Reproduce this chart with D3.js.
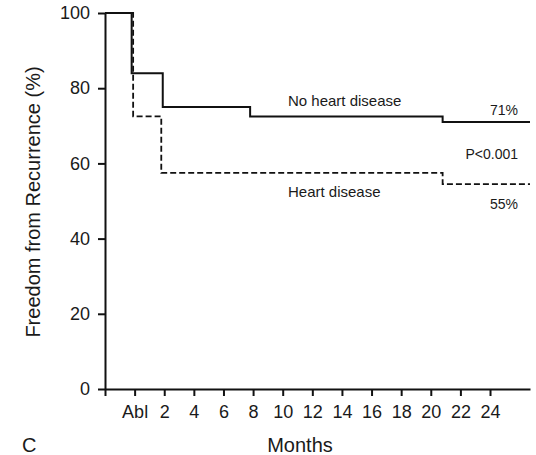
<!DOCTYPE html>
<html>
<head>
<meta charset="utf-8">
<script src="https://cdn.jsdelivr.net/npm/d3@7"></script>
<style>
  body { margin: 0; background: #fff; }
  svg text { font-family: "Liberation Sans", Arial, sans-serif; fill: #1a1a1a; }
</style>
</head>
<body>
<svg id="chart" width="536" height="455"></svg>
<script>
// tick positions on the month axis (-2 is the origin, 0 is the ablation)
const tickMonths = [-2, 0, 2, 4, 6, 8, 10, 12, 14, 16, 18, 20, 22, 24];
const tickLabels = ["", "Abl", "2", "4", "6", "8", "10", "12", "14", "16", "18", "20", "22", "24"];
const yTicks = [0, 20, 40, 60, 80, 100];

// step curves
const noHeartMonths = [-2, -0.2, 1.9, 7.8, 20.8, 26.7];
const noHeartValues = [100, 84, 75, 72.5, 71, 71];
const heartMonths = [-2, -0.1, 1.8, 20.8, 26.7];
const heartValues = [100, 72.5, 57.5, 54.5, 54.5];

function toPoints(months, values) {
	return months.map((m, i) => ({m: m, v: values[i]}));
}

function drawChart(svgElem) {
	const svg = d3.select(svgElem);

	const x = d3.scaleLinear().domain([-2, 26.7]).range([105, 530]);
	const y = d3.scaleLinear().domain([0, 100]).range([389, 13]);

	const line = d3.line()
		.x(d => x(d.m))
		.y(d => y(d.v))
		.curve(d3.curveStepAfter);

	// axes
	const yAxis = g => g
		.attr("transform", `translate(${x(-2)},0)`)
		.call(d3.axisLeft(y).tickValues(yTicks).tickSize(7).tickPadding(8).tickSizeOuter(0))
		.call(g => g.selectAll("text").style("font-size", "18px"));

	const xAxis = g => g
		.attr("transform", `translate(0,${y(0)})`)
		.call(d3.axisBottom(x).tickValues(tickMonths).tickFormat((d, i) => tickLabels[i])
			.tickSize(7).tickPadding(9).tickSizeOuter(0))
		.call(g => g.selectAll("text").style("font-size", "18px"));

	svg.append("g").call(xAxis);
	svg.append("g").call(yAxis);
	svg.selectAll(".domain, .tick line").attr("stroke", "#111").attr("stroke-width", 2);

	// survival curves
	svg.append("path")
		.datum(toPoints(heartMonths, heartValues))
		.attr("fill", "none")
		.attr("stroke", "#111")
		.attr("stroke-width", 1.8)
		.attr("stroke-dasharray", "6,3")
		.attr("d", line);

	svg.append("path")
		.datum(toPoints(noHeartMonths, noHeartValues))
		.attr("fill", "none")
		.attr("stroke", "#111")
		.attr("stroke-width", 2)
		.attr("d", line);

	// annotations
	const label = (tx, ty, txt, size, anchor) => svg.append("text")
		.attr("x", tx).attr("y", ty)
		.attr("text-anchor", anchor || "start")
		.style("font-size", size + "px")
		.text(txt);

	label(288, 106, "No heart disease", 15);
	label(518, 115, "71%", 14, "end");
	label(518, 159, "P<0.001", 14, "end");
	label(288, 197, "Heart disease", 15);
	label(518, 209, "55%", 14, "end");

	// axis titles
	svg.append("text")
		.attr("transform", "translate(40,202) rotate(-90)")
		.attr("text-anchor", "middle")
		.style("font-size", "20px")
		.text("Freedom from Recurrence (%)");

	label(300, 452, "Months", 20, "middle");
	label(22, 452, "C", 20);

	return svg.node();
}

drawChart(document.getElementById("chart"));
</script>
</body>
</html>
